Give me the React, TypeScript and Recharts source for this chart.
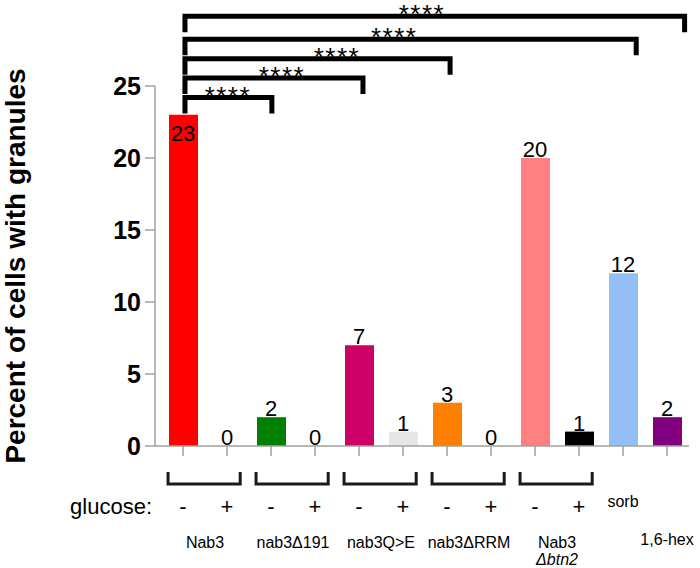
import React from 'react';
import {
  ComposedChart,
  Bar,
  Line,
  XAxis,
  YAxis,
  Cell,
  LabelList,
  ReferenceLine,
  ReferenceDot,
} from 'recharts';

const conditions = [
  'Nab3 -', 'Nab3 +', 'nab3Δ191 -', 'nab3Δ191 +', 'nab3Q>E -', 'nab3Q>E +',
  'nab3ΔRRM -', 'nab3ΔRRM +', 'Nab3 Δbtn2 -', 'Nab3 Δbtn2 +', 'sorb', '1,6-hex',
];
const percentWithGranules = [23, 0, 2, 0, 7, 1, 3, 0, 20, 1, 12, 2];
const glucoseLabels = ['-', '+', '-', '+', '-', '+', '-', '+', '-', '+', 'sorb', ''];
const barColors = [
  '#ff0000', '#ff0000', '#008000', '#008000', '#cc0066', '#e6e6e6',
  '#ff8000', '#ff8000', '#ff8080', '#000000', '#94bff5', '#800080',
];
const yTicks = [0, 5, 10, 15, 20, 25];

// strains, each one a pair of bars (-/+ glucose)
const groupNames = ['Nab3', 'nab3Δ191', 'nab3Q>E', 'nab3ΔRRM', 'Nab3'];
const groupSubNames = ['', '', '', '', 'Δbtn2'];
const groupStart = [0, 2, 4, 6, 8];
const extraLabel = '1,6-hex';
const extraLabelBar = 11;

// significance brackets, all against Nab3 (-)
const sigTargets = [2, 4, 6, 10, 11];
const sigLabels = ['****', '****', '****', '****', '****'];

// slot = position on the helper numeric axis (bar i is centred at i + 0.5)
const data = conditions.map((c, i) => ({ condition: c, value: percentWithGranules[i], slot: i + 0.5 }));
const maxValue = Math.max(...percentWithGranules);

// annotation placement on the helper axis
const bracketLevel = [24.2, 25.55, 26.9, 28.25, 29.85];
const bracketEndShift = [0.02, 0.09, 0.07, 0.3, 0.4];
const starX = [1.52, 2.75, 4.0, 5.3, 5.93];

const FONT = 'Arial, "Liberation Sans", Helvetica, sans-serif';
const AXIS_GRAY = '#a0a0a0';

const TopBracket = (p: any) => (
  <path
    d={`M${p.x1},${p.y1 + 16} L${p.x1},${p.y1} L${p.x2},${p.y2} L${p.x2},${p.y2 + 16}`}
    fill="none"
    stroke="#000"
    strokeWidth={5}
  />
);

const GroupBracket = (p: any) => (
  <path
    d={`M${p.x1},${p.y1 - 12} L${p.x1},${p.y1} L${p.x2},${p.y2} L${p.x2},${p.y2 - 12}`}
    fill="none"
    stroke="#1a1a1a"
    strokeWidth={3}
  />
);

const GlucoseTick = (props: any) => {
  const { x, y, payload } = props;
  const i = payload?.index ?? props.index ?? 0;
  const label = glucoseLabels[i];
  const small = label === 'sorb';
  return (
    <g>
      {i === 0 && (
        <text x={x - 31} y={y + 56} textAnchor="end" fontSize={22} fill="#000">
          glucose:
        </text>
      )}
      <text x={x} y={y + (small ? 49 : 56)} textAnchor="middle" fontSize={small ? 16 : 22} fill="#000">
        {label}
      </text>
    </g>
  );
};

const YTitle = (props: any) => {
  const vb = props.viewBox;
  const cy = vb && vb.height ? vb.y + vb.height / 2 : 266;
  const cx = 15;
  return (
    <text
      x={cx}
      y={cy}
      transform={`rotate(-90, ${cx}, ${cy})`}
      textAnchor="middle"
      dominantBaseline="central"
      fontSize={28}
      fontWeight="bold"
      fill="#000"
    >
      Percent of cells with granules
    </text>
  );
};

// value labels sit on top of the bars, except the tallest one (under the brackets)
const ValueLabel = (props: any) => {
  const { x, y, value } = props;
  const inside = value === maxValue;
  return (
    <text x={x} y={inside ? y + 26 : y - 1} textAnchor="middle" fontSize={22} fill="#000">
      {value}
    </text>
  );
};

export default function App() {
  return (
    <div style={{ position: 'absolute', left: 0, top: 0 }}>
      <ComposedChart
        width={700}
        height={568}
        data={data}
        margin={{ top: 86, right: 11, bottom: 92, left: 0 }}
        style={{ fontFamily: FONT }}
      >
        <XAxis
          dataKey="condition"
          interval={0}
          height={30}
          padding={{ left: 6, right: 0 }}
          tickSize={10}
          tick={<GlucoseTick />}
          tickLine={{ stroke: AXIS_GRAY, strokeWidth: 1.5 }}
          axisLine={{ stroke: AXIS_GRAY, strokeWidth: 1.5 }}
        />
        <XAxis
          xAxisId="num"
          dataKey="slot"
          type="number"
          domain={[0, 12]}
          ticks={[0, 3, 6, 9, 12]}
          allowDataOverflow
          padding={{ left: 6, right: 0 }}
          hide
        />
        <YAxis
          domain={[0, 25]}
          ticks={yTicks}
          width={155}
          tickSize={10}
          tickMargin={4}
          tick={{ fontSize: 25, fontWeight: 'bold', fill: '#000' }}
          tickLine={{ stroke: AXIS_GRAY, strokeWidth: 1.5 }}
          axisLine={{ stroke: AXIS_GRAY, strokeWidth: 1.5 }}
          label={<YTitle />}
        />
        <Bar dataKey="value" barSize={29} isAnimationActive={false}>
          {data.map((d, i) => (
            <Cell key={d.condition} fill={barColors[i]} />
          ))}
        </Bar>
        <Line
          dataKey="value"
          stroke="none"
          dot={false}
          activeDot={false}
          legendType="none"
          isAnimationActive={false}
        >
          <LabelList dataKey="value" content={<ValueLabel />} />
        </Line>

        {sigTargets.map((t, k) => (
          <ReferenceLine
            key={'sig' + k}
            xAxisId="num"
            ifOverflow="visible"
            segment={[
              { x: 0.545, y: bracketLevel[k] },
              { x: t + 0.5 + bracketEndShift[k], y: bracketLevel[k] },
            ]}
            shape={<TopBracket />}
          />
        ))}
        {sigLabels.map((s, k) => (
          <ReferenceDot
            key={'star' + k}
            xAxisId="num"
            x={starX[k]}
            y={bracketLevel[k]}
            r={0}
            fill="none"
            stroke="none"
            ifOverflow="visible"
            label={{ value: s, position: 'top', offset: -7, fontSize: 26, fill: '#000', letterSpacing: 1.5 }}
          />
        ))}

        {groupStart.map((g, k) => (
          <ReferenceLine
            key={'grp' + k}
            xAxisId="num"
            ifOverflow="visible"
            segment={[
              { x: g + 0.16, y: -2.64 },
              { x: g + 1.8, y: -2.64 },
            ]}
            shape={<GroupBracket />}
          />
        ))}
        {groupNames.map((n, k) => (
          <ReferenceDot
            key={'gname' + k}
            xAxisId="num"
            x={groupStart[k] + 1}
            y={-6.67}
            r={0}
            fill="none"
            stroke="none"
            ifOverflow="visible"
            label={{ value: n, position: 'center', fontSize: 16, fill: '#000' }}
          />
        ))}
        {groupSubNames.map((n, k) =>
          n ? (
            <ReferenceDot
              key={'gsub' + k}
              xAxisId="num"
              x={groupStart[k] + 1}
              y={-7.9}
              r={0}
              fill="none"
              stroke="none"
              ifOverflow="visible"
              label={{ value: n, position: 'center', fontSize: 16, fill: '#000', fontStyle: 'italic' }}
            />
          ) : null
        )}
        <ReferenceDot
          xAxisId="num"
          x={extraLabelBar + 0.5}
          y={-6.5}
          r={0}
          fill="none"
          stroke="none"
          ifOverflow="visible"
          label={{ value: extraLabel, position: 'center', fontSize: 16, fill: '#000' }}
        />
      </ComposedChart>
    </div>
  );
}
